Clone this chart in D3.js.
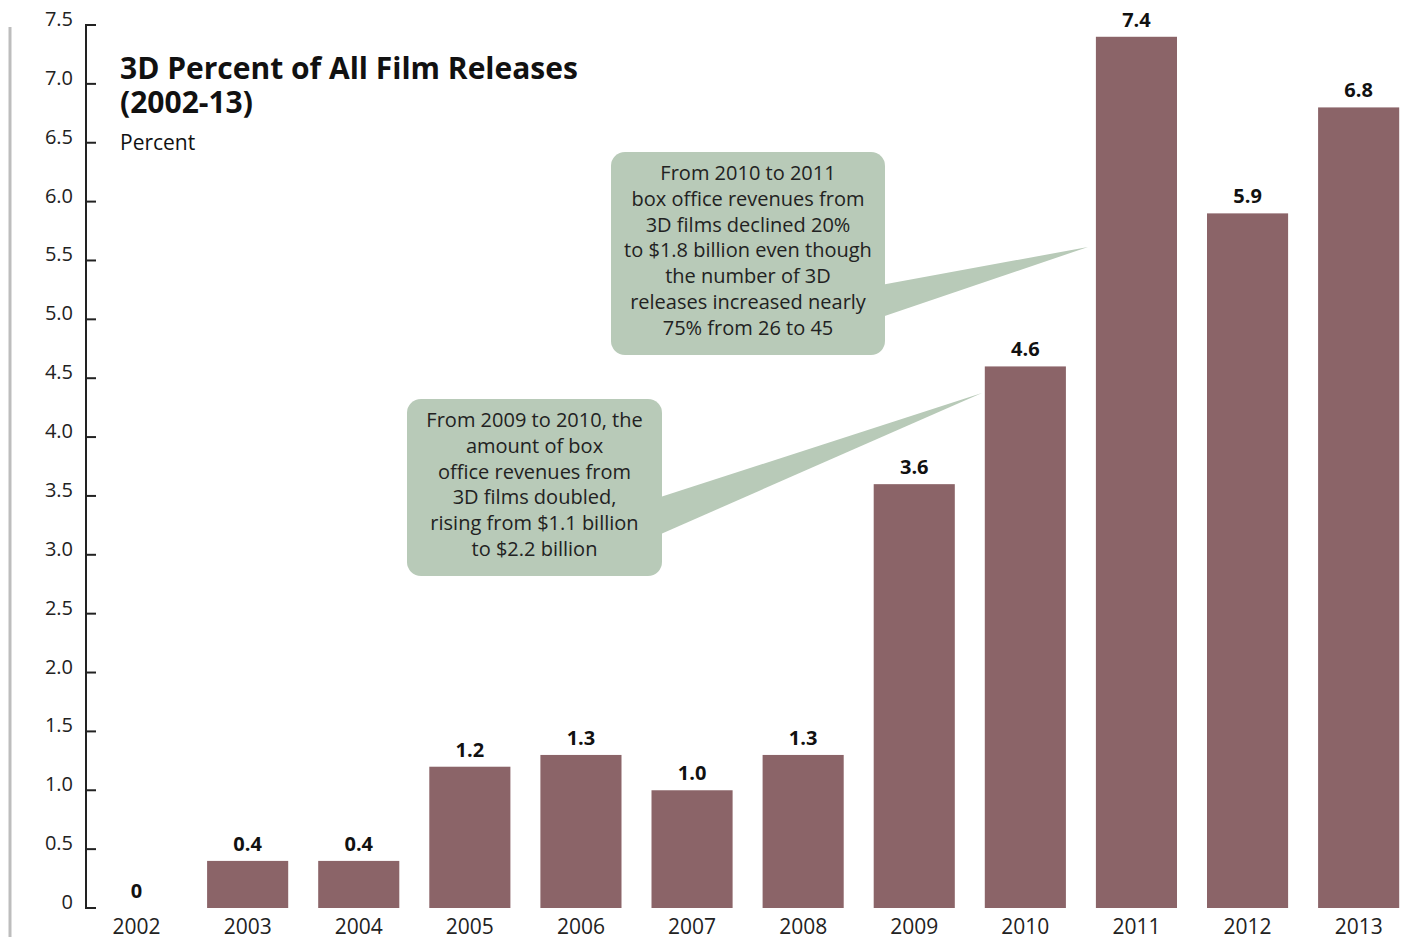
<!DOCTYPE html>
<html>
<head>
<meta charset="utf-8">
<script src="https://cdn.jsdelivr.net/npm/d3@7"></script>
<style>
  body { margin: 0; background: #fff; }
  svg { display: block; }
</style>
</head>
<body>
<div id="chart"></div>
<script>
var width = 1407;
var height = 937;

// data
var years = ["2002", "2003", "2004", "2005", "2006", "2007", "2008", "2009", "2010", "2011", "2012", "2013"];
var values = [0, 0.4, 0.4, 1.2, 1.3, 1.0, 1.3, 3.6, 4.6, 7.4, 5.9, 6.8];
var yTicks = [0, 0.5, 1, 1.5, 2, 2.5, 3, 3.5, 4, 4.5, 5, 5.5, 6, 6.5, 7, 7.5];

var note2010 = ["From 2010 to 2011", "box office revenues from", "3D films declined 20%",
    "to $1.8 billion even though", "the number of 3D", "releases increased nearly", "75% from 26 to 45"];
var note2009 = ["From 2009 to 2010, the", "amount of box", "office revenues from",
    "3D films doubled,", "rising from $1.1 billion", "to $2.2 billion"];

var font = "'Open Sans', 'Noto Sans', sans-serif";

var svg = d3.select("#chart").append("svg")
    .attr("width", width)
    .attr("height", height);

var x = d3.scaleBand()
    .domain(years)
    .range([81, 81 + 12 * 111.1])
    .paddingInner(0.27)
    .paddingOuter(0.135);

var y = d3.scaleLinear()
    .domain([0, 7.5])
    .range([908, 25]);

// grey rule at far left
svg.append("line")
    .attr("x1", 10).attr("x2", 10)
    .attr("y1", 27).attr("y2", height)
    .attr("stroke", "#bdbdbd")
    .attr("stroke-width", 3);

// y axis: line with ticks pointing right
var yAxis = svg.append("g");
yAxis.append("line")
    .attr("x1", 86).attr("x2", 86)
    .attr("y1", y(7.5)).attr("y2", y(0))
    .attr("stroke", "#222")
    .attr("stroke-width", 2);

yAxis.selectAll(".tick")
    .data(yTicks)
    .enter().append("line")
    .attr("x1", 85).attr("x2", 96)
    .attr("y1", function(d) { return y(d); })
    .attr("y2", function(d) { return y(d); })
    .attr("stroke", "#222")
    .attr("stroke-width", 2);

yAxis.selectAll(".tlabel")
    .data(yTicks)
    .enter().append("text")
    .text(function(d) { return d === 0 ? "0" : d.toFixed(1); })
    .attr("x", 73)
    .attr("y", function(d) { return y(d) + 1; })
    .attr("text-anchor", "end")
    .style("font-family", font)
    .style("font-size", "20px")
    .style("fill", "#222");

// bars
svg.selectAll(".bar")
    .data(values)
    .enter().append("rect")
    .attr("x", function(d, i) { return x(years[i]); })
    .attr("y", function(d) { return y(d); })
    .attr("width", x.bandwidth())
    .attr("height", function(d) { return y(0) - y(d); })
    .attr("fill", "#8b6468");

svg.selectAll(".val")
    .data(values)
    .enter().append("text")
    .text(function(d) { return d === 0 ? "0" : d.toFixed(1); })
    .attr("x", function(d, i) { return x(years[i]) + x.bandwidth() / 2; })
    .attr("y", function(d) { return y(d) - 10; })
    .attr("text-anchor", "middle")
    .style("font-family", font)
    .style("font-size", "20px")
    .style("font-weight", "bold")
    .style("fill", "#111");

svg.selectAll(".year")
    .data(years)
    .enter().append("text")
    .text(function(d) { return d; })
    .attr("x", function(d) { return x(d) + x.bandwidth() / 2; })
    .attr("y", 934)
    .attr("text-anchor", "middle")
    .style("font-family", font)
    .style("font-size", "21px")
    .style("fill", "#222");

// title
svg.append("text")
    .text("3D Percent of All Film Releases")
    .attr("x", 120).attr("y", 79)
    .style("font-family", font)
    .style("font-size", "30px")
    .style("font-weight", "bold")
    .style("fill", "#111");

svg.append("text")
    .text("(2002-13)")
    .attr("x", 120).attr("y", 113)
    .style("font-family", font)
    .style("font-size", "30px")
    .style("font-weight", "bold")
    .style("fill", "#111");

svg.append("text")
    .text("Percent")
    .attr("x", 120).attr("y", 150)
    .style("font-family", font)
    .style("font-size", "21px")
    .style("fill", "#111");

// callouts
function callout(box, pointer, lines, firstBaseline) {
    var g = svg.append("g");
    g.append("path")
        .attr("d", d3.line()(pointer) + "Z")
        .attr("fill", "#b8cab8");
    g.append("rect")
        .attr("x", box[0]).attr("y", box[1])
        .attr("width", box[2]).attr("height", box[3])
        .attr("rx", 14).attr("ry", 14)
        .attr("fill", "#b8cab8");
    g.selectAll("text")
        .data(lines)
        .enter().append("text")
        .text(function(d) { return d; })
        .attr("x", box[0] + box[2] / 2)
        .attr("y", function(d, i) { return firstBaseline + i * 25.8; })
        .attr("text-anchor", "middle")
        .style("font-family", font)
        .style("font-size", "20px")
        .style("fill", "#222");
}

callout([611, 152, 274, 203],
    [[870, 287], [1088, 247], [870, 321]],
    note2010, 180);

callout([407, 399, 255, 177],
    [[645, 502], [982, 393], [645, 541]],
    note2009, 427);
</script>
</body>
</html>
